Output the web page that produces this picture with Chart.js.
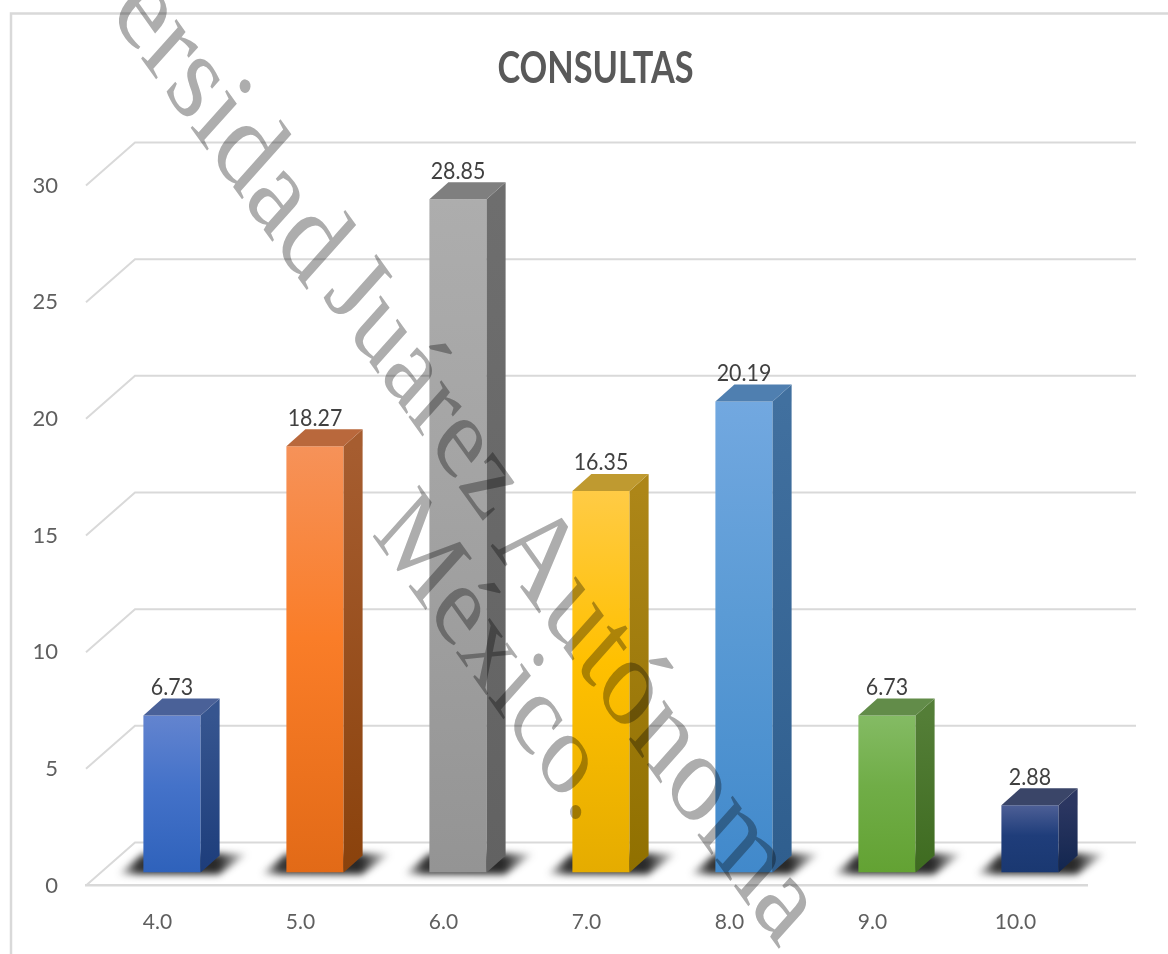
<!DOCTYPE html>
<html>
<head>
<meta charset="utf-8">
<title>Consultas</title>
<script src="https://cdn.jsdelivr.net/npm/chart.js@4"></script>
<style>
    html, body { margin: 0; padding: 0; background: #fff; overflow: hidden; }
    canvas { display: block; }
</style>
</head>
<body>
<canvas id="bar-chart" width="1168" height="954"></canvas>
<script>
// DATA
const chartTitle = 'CONSULTAS';
const categories = ['4.0', '5.0', '6.0', '7.0', '8.0', '9.0', '10.0'];
const seriesValues = [6.73, 18.27, 28.85, 16.35, 20.19, 6.73, 2.88];

// BAR COLOURS: light top, middle, bottom of the front face, then side and top faces
const frontTop = ['#6384cf', '#f69259', '#adadad', '#ffcb45', '#72a8e0', '#84bb64', '#4d5f96'];
const frontMid = ['#4472c9', '#fa7d28', '#a3a3a3', '#ffc000', '#5b9bd5', '#70ad47', '#1f3d7a'];
const frontBottom = ['#2f62bb', '#e26a17', '#949494', '#e5ac00', '#4189cb', '#63a233', '#1a3871'];
const sideTop = ['#36558f', '#a65d30', '#6e6e6e', '#ad8618', '#41709f', '#547e37', '#2b3661'];
const sideBottom = ['#1d3d7b', '#8a420c', '#626262', '#907000', '#2f5e8e', '#3e6b20', '#12264f'];
const topFaces = ['#4a6198', '#b9683c', '#7f7f7f', '#bf9a30', '#4f7fb0', '#628c49', '#3a4568'];

// DEPTH OF THE 3D BOX
const gridColor = '#d9d9d9';
const wallDx = 49, wallDy = -43;
const barDx = 14.5, barDy = -13;
const sideDx = 19, sideDy = -17;

// text squeezed sideways, the original picture is a bit stretched
const squeezedText = (ctx, text, x, y, font, color, squeeze) => {
    ctx.save();
    ctx.translate(x, y);
    ctx.scale(squeeze, 1);
    ctx.font = font;
    ctx.fillStyle = color;
    ctx.textAlign = 'center';
    ctx.textBaseline = 'middle';
    ctx.fillText(text, 0, 0);
    ctx.restore();
}

// watermark piece, turned and then stretched downwards like the rest of the picture
const watermarkText = (ctx, text, x, y, size) => {
    ctx.save();
    ctx.translate(x, y);
    ctx.scale(1, 1.25);
    ctx.rotate(48.2 * Math.PI / 180);
    ctx.font = size + 'px "Liberation Serif"';
    ctx.fillText(text, 0, 0);
    ctx.restore();
}

const drawShadow = (ctx, bar) => {
    const left = bar.x - bar.width / 2;
    const right = bar.x + bar.width / 2;
    const fade = ctx.createLinearGradient(left - 26, 0, right + 48, 0);
    const span = bar.width + 74;
    fade.addColorStop(0, 'rgba(30,30,30,0)');
    fade.addColorStop(20 / span, 'rgba(30,30,30,0.9)');
    fade.addColorStop((span - 30) / span, 'rgba(30,30,30,0.95)');
    fade.addColorStop(1, 'rgba(30,30,30,0)');
    ctx.fillStyle = fade;
    ctx.beginPath();
    ctx.moveTo(left - 26, bar.base + 2);
    ctx.lineTo(right + 18, bar.base + 2);
    ctx.lineTo(right + 48, bar.base - 19);
    ctx.lineTo(left, bar.base - 19);
    ctx.closePath();
    ctx.fill();
}

const depthPlugin = {
    id: 'depth',
    beforeDraw(chart) {
        const ctx = chart.ctx;
        ctx.save();
        ctx.strokeStyle = gridColor;
        ctx.lineWidth = 2.5;
        ctx.beginPath();
        ctx.moveTo(11, 954);
        ctx.lineTo(11, 13.5);
        ctx.lineTo(1168, 13.5);
        ctx.stroke();
        ctx.restore();
    },
    beforeDatasetsDraw(chart) {
        const ctx = chart.ctx;
        const area = chart.chartArea;
        const yScale = chart.scales.y;

        // back wall lines and the diagonals coming to the front
        ctx.save();
        ctx.strokeStyle = gridColor;
        ctx.lineWidth = 2;
        yScale.ticks.forEach((tick) => {
            const y = yScale.getPixelForValue(tick.value);
            ctx.beginPath();
            ctx.moveTo(area.left, y);
            ctx.lineTo(area.left + wallDx, y + wallDy);
            ctx.lineTo(area.right + wallDx, y + wallDy);
            ctx.stroke();
        });
        ctx.restore();

        // floor shadows
        const bars = chart.getDatasetMeta(0).data;
        ctx.save();
        ctx.translate(barDx, barDy);
        ctx.filter = 'blur(3.5px)';
        bars.forEach((bar) => drawShadow(ctx, bar));
        ctx.restore();

        // the bars stand inside the floor, not on its front edge
        ctx.save();
        ctx.translate(barDx, barDy);
    },
    afterDatasetsDraw(chart) {
        const ctx = chart.ctx;
        chart.getDatasetMeta(0).data.forEach((bar, i) => {
            const right = bar.x + bar.width / 2;
            const left = bar.x - bar.width / 2;

            const side = ctx.createLinearGradient(0, bar.y, 0, bar.base);
            side.addColorStop(0, sideTop[i]);
            side.addColorStop(1, sideBottom[i]);
            ctx.fillStyle = side;
            ctx.beginPath();
            ctx.moveTo(right, bar.y);
            ctx.lineTo(right + sideDx, bar.y + sideDy);
            ctx.lineTo(right + sideDx, bar.base + sideDy);
            ctx.lineTo(right, bar.base);
            ctx.closePath();
            ctx.fill();

            ctx.fillStyle = topFaces[i];
            ctx.beginPath();
            ctx.moveTo(left, bar.y);
            ctx.lineTo(left + sideDx, bar.y + sideDy);
            ctx.lineTo(right + sideDx, bar.y + sideDy);
            ctx.lineTo(right, bar.y);
            ctx.closePath();
            ctx.fill();
        });
        ctx.restore();
    },
    afterDraw(chart) {
        const ctx = chart.ctx;

        // title and value labels
        squeezedText(ctx, chartTitle, 595.5, 69, 'bold 44px Lato', '#595959', 0.78);
        chart.getDatasetMeta(0).data.forEach((bar, i) => {
            squeezedText(ctx, seriesValues[i].toFixed(2), bar.x + barDx, bar.y + barDy + sideDy - 11,
                '23px Lato', '#404040', 0.93);
        });

        // watermark, darkens what is under it
        ctx.save();
        ctx.globalCompositeOperation = 'multiply';
        ctx.fillStyle = '#adadad';
        ctx.textBaseline = 'alphabetic';
        watermarkText(ctx, 'Universidad', -28, -178, 103);
        watermarkText(ctx, 'Juárez', 322, 296, 96);
        watermarkText(ctx, 'Autónoma', 490, 545, 103);
        watermarkText(ctx, 'México.', 371, 534, 95);
        ctx.restore();
    }
};

// gradient for the front face of a bar
const frontFill = (context) => {
    const chart = context.chart;
    if (!chart.chartArea || context.parsed === undefined) {
        return frontMid[context.dataIndex];
    }
    const i = context.dataIndex;
    const yScale = chart.scales.y;
    const grad = chart.ctx.createLinearGradient(0, yScale.getPixelForValue(seriesValues[i]), 0, yScale.getPixelForValue(0));
    grad.addColorStop(0, frontTop[i]);
    grad.addColorStop(0.45, frontMid[i]);
    grad.addColorStop(1, frontBottom[i]);
    return grad;
}

const buildChart = () => {
    const ctx = document.getElementById('bar-chart').getContext('2d');
    new Chart(ctx, {
        type: 'bar',
        data: {
            labels: categories,
            datasets: [{
                label: chartTitle,
                data: seriesValues,
                backgroundColor: frontFill,
                borderWidth: 0,
                barPercentage: 0.4,
                categoryPercentage: 1
            }]
        },
        options: {
            responsive: false,
            animation: false,
            layout: { padding: { top: 185.5, right: 81, left: 0, bottom: 0 } },
            plugins: {
                legend: { display: false },
                tooltip: { enabled: false },
                title: { display: false }
            },
            scales: {
                x: {
                    afterFit: (scale) => { scale.height = 68.5; },
                    grid: { display: false },
                    border: { display: true, color: gridColor, width: 2.5 },
                    ticks: { color: '#5f5f5f', font: { family: 'Lato', size: 21 }, padding: 16, maxRotation: 0 }
                },
                y: {
                    min: 0,
                    max: 30,
                    afterFit: (scale) => { scale.width = 86; },
                    grid: { display: false },
                    border: { display: false },
                    ticks: { stepSize: 5, color: '#5f5f5f', font: { family: 'Lato', size: 22 }, padding: 20 }
                }
            }
        },
        plugins: [depthPlugin]
    });
}

buildChart();
</script>
</body>
</html>
